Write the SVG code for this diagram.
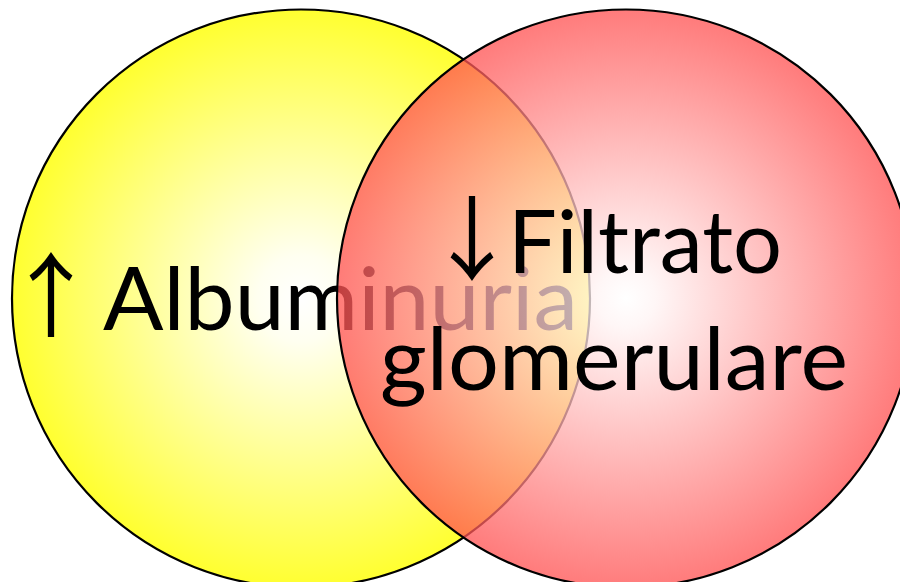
<svg xmlns="http://www.w3.org/2000/svg" width="900" height="582" viewBox="0 0 900 582">
  <defs>
    <radialGradient id="yellowFill" cx="0.5" cy="0.5" r="0.5">
      <stop offset="0" stop-color="#FFFFFF"/>
      <stop offset="0.15" stop-color="#FFFFF0"/>
      <stop offset="1" stop-color="#FFFF30"/>
    </radialGradient>
    <radialGradient id="redFill" cx="0.5" cy="0.5" r="0.5">
      <stop offset="0" stop-color="#FFFFFF"/>
      <stop offset="0.1" stop-color="#FFF4F4"/>
      <stop offset="1" stop-color="#FF5252"/>
    </radialGradient>
    <style>
      .circle { stroke: #000000; stroke-width: 2.2; }
      .label { font-family: Lato, "Open Sans", "Liberation Sans", sans-serif; font-size: 87px; fill: #000000; }
      .arrow { font-family: "Noto Sans CJK SC", "DejaVu Sans", sans-serif; font-size: 92px; fill: #000000; }
    </style>
  </defs>

  <!-- left set: albuminuria -->
  <g id="albuminuria">
    <circle class="circle" cx="301" cy="298.5" r="289" fill="url(#yellowFill)"/>
    <text class="arrow" x="51" y="330" text-anchor="middle">↑</text>
    <text class="label" x="103" y="330" textLength="475" lengthAdjust="spacingAndGlyphs">Albuminuria</text>
  </g>

  <!-- right set: glomerular filtration, translucent over the left set -->
  <g id="filtrato">
    <circle class="circle" cx="626" cy="298.5" r="289" fill="url(#redFill)" fill-opacity="0.76"/>
    <text class="arrow" x="472" y="273" text-anchor="middle">↓</text>
    <text class="label" x="508" y="273" textLength="274" lengthAdjust="spacingAndGlyphs">Filtrato</text>
    <text class="label" x="380" y="390" textLength="468" lengthAdjust="spacingAndGlyphs">glomerulare</text>
  </g>
</svg>
